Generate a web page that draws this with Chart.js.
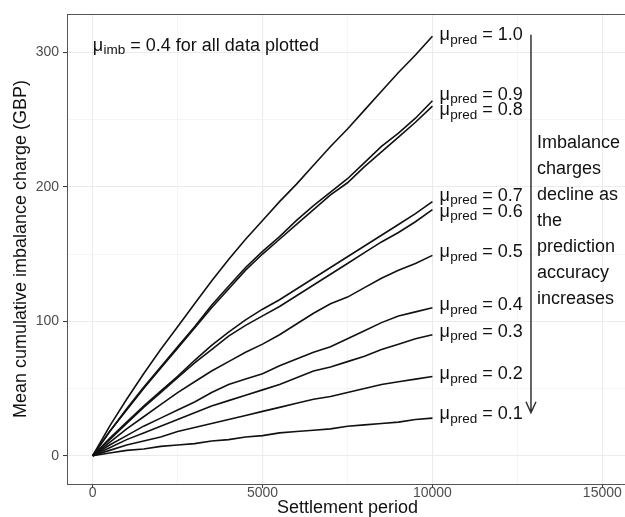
<!DOCTYPE html>
<html>
<head>
<meta charset="utf-8">
<script src="https://cdn.jsdelivr.net/npm/chart.js@4/dist/chart.umd.min.js"></script>
<style>
  html, body { margin: 0; padding: 0; background: #fff; overflow: hidden; }
  #wrap { width: 625px; height: 517px; overflow: hidden; }
</style>
</head>
<body>
<div id="wrap"><canvas id="chart" width="640" height="517"></canvas></div>
<script>
// settlement periods sampled along each curve
const period = [0, 500, 1000, 1500, 2000, 2500, 3000, 3500, 4000, 4500, 5000,
  5500, 6000, 6500, 7000, 7500, 8000, 8500, 9000, 9500, 10000];

// mean cumulative imbalance charge (GBP), one array per prediction accuracy
const charge10 = [0, 22, 42, 61, 79, 96, 113, 130, 146, 161, 175, 189, 202, 216, 230, 243, 257, 271, 285, 298, 312];
const charge09 = [0, 18, 35, 51, 66, 81, 96, 112, 126, 140, 152, 163, 175, 186, 196, 206, 218, 230, 240, 251, 264];
const charge08 = [0, 18, 34, 50, 65, 80, 95, 110, 124, 138, 150, 161, 172, 183, 194, 203, 215, 226, 237, 248, 260];
const charge07 = [0, 13, 25, 37, 48, 59, 71, 82, 92, 101, 109, 116, 124, 132, 140, 148, 156, 164, 172, 180, 189];
const charge06 = [0, 12, 24, 36, 47, 58, 69, 79, 89, 97, 104, 111, 119, 127, 135, 143, 151, 159, 166, 174, 183];
const charge05 = [0, 10, 20, 29, 38, 47, 55, 63, 70, 77, 83, 90, 98, 106, 113, 118, 125, 132, 138, 143, 149];
const charge04 = [0, 8, 15, 22, 28, 34, 40, 47, 53, 57, 61, 67, 72, 77, 81, 87, 93, 99, 104, 107, 110];
const charge03 = [0, 6, 12, 17, 22, 27, 32, 37, 41, 45, 49, 53, 58, 63, 66, 70, 74, 79, 83, 87, 90];
const charge02 = [0, 4, 8, 11, 14, 18, 21, 24, 27, 30, 33, 36, 39, 42, 44, 47, 50, 53, 55, 57, 59];
const charge01 = [0, 2, 4, 5, 7, 8, 9, 11, 12, 14, 15, 17, 18, 19, 20, 22, 23, 24, 25, 27, 28];

const predLevels = ['1.0', '0.9', '0.8', '0.7', '0.6', '0.5', '0.4', '0.3', '0.2', '0.1'];
const seriesList = [charge10, charge09, charge08, charge07, charge06, charge05, charge04, charge03, charge02, charge01];

const xMajor = [0, 5000, 10000, 15000];
const xMinor = [2500, 7500, 12500];
const yMajor = [0, 100, 200, 300];
const yMinor = [50, 150, 250];

const arrowText = ['Imbalance', 'charges', 'decline as', 'the', 'prediction', 'accuracy', 'increases'];

const FONT = '"Liberation Sans", Arial, Helvetica, sans-serif';

function ticksFrom(major, minor) {
  return major.concat(minor).sort((a, b) => a - b).map(v => ({ value: v }));
}

// draws "μ" + subscript + rest, left aligned, vertically centred on y
function muLabel(ctx, x, y, sub, rest) {
  ctx.textAlign = 'left';
  ctx.textBaseline = 'middle';
  ctx.font = '18px ' + FONT;
  ctx.fillText('μ', x, y);
  let cx = x + ctx.measureText('μ').width + 0.5;
  ctx.font = '13.5px ' + FONT;
  ctx.fillText(sub, cx, y + 5);
  cx += ctx.measureText(sub).width;
  ctx.font = '18px ' + FONT;
  ctx.fillText(rest, cx, y);
}

const panelPlugin = {
  id: 'panel',
  beforeDatasetsDraw(chart) {
    const { ctx, chartArea: a } = chart;
    ctx.save();
    ctx.strokeStyle = '#555';
    ctx.lineWidth = 1;
    ctx.strokeRect(a.left + 0.5, a.top + 0.5, a.right - a.left, a.bottom - a.top);
    ctx.restore();
  },
  afterDatasetsDraw(chart) {
    const { ctx } = chart;
    const xs = chart.scales.x, ys = chart.scales.y;
    ctx.save();
    ctx.fillStyle = '#111';

    // note at the top left
    muLabel(ctx, xs.getPixelForValue(0), ys.getPixelForValue(305), 'imb', ' = 0.4 for all data plotted');

    // curve labels at the end of each line, nudged apart where they crowd
    const nudge = [-1, -6, 4, -6, 2, -3, -3, -3, -2, -4];
    const endX = xs.getPixelForValue(period[period.length - 1]) + 7;
    seriesList.forEach((s, i) => {
      const y = ys.getPixelForValue(s[s.length - 1]) + nudge[i];
      muLabel(ctx, endX, y, 'pred', ' = ' + predLevels[i]);
    });

    // downward arrow
    const ax = xs.getPixelForValue(12900);
    const y0 = ys.getPixelForValue(313), y1 = ys.getPixelForValue(32);
    ctx.strokeStyle = '#333';
    ctx.lineWidth = 1.5;
    ctx.beginPath();
    ctx.moveTo(ax, y0);
    ctx.lineTo(ax, y1);
    ctx.moveTo(ax - 5, y1 - 11);
    ctx.lineTo(ax, y1);
    ctx.lineTo(ax + 5, y1 - 11);
    ctx.stroke();

    ctx.font = '18px ' + FONT;
    ctx.textAlign = 'left';
    ctx.textBaseline = 'middle';
    arrowText.forEach((t, i) => ctx.fillText(t, ax + 6, 143 + i * 26));
    ctx.restore();
  }
};

new Chart(document.getElementById('chart'), {
  type: 'line',
  data: {
    datasets: seriesList.map((s, i) => ({
      label: 'pred ' + predLevels[i],
      data: period.map((p, j) => ({ x: p, y: s[j] })),
      borderColor: '#111',
      borderWidth: 1.6,
      pointRadius: 0,
      tension: 0,
      fill: false
    }))
  },
  options: {
    responsive: false,
    animation: false,
    layout: { padding: { top: 14, right: 12, left: 0, bottom: 0 } },
    plugins: { legend: { display: false }, tooltip: { enabled: false } },
    scales: {
      x: {
        type: 'linear',
        min: -756,
        max: 15756,
        afterBuildTicks: axis => { axis.ticks = ticksFrom(xMajor, xMinor); },
        afterFit: axis => { axis.height = 33; },
        border: { display: false },
        grid: {
          color: c => xMajor.includes(c.tick.value) ? '#ebebeb' : '#f1f1f1',
          lineWidth: c => xMajor.includes(c.tick.value) ? 1.1 : 0.7,
          tickColor: c => xMajor.includes(c.tick.value) ? '#333' : 'rgba(0,0,0,0)',
          tickLength: 4,
          tickWidth: 1
        },
        ticks: {
          autoSkip: false,
          maxRotation: 0,
          padding: -2,
          color: '#4d4d4d',
          font: { family: FONT, size: 14, lineHeight: 1 },
          callback: v => xMajor.includes(v) ? String(v) : ''
        },
        title: {
          display: true,
          text: 'Settlement period',
          color: '#111',
          font: { family: FONT, size: 18 },
          padding: { top: 0, bottom: -2 }
        }
      },
      y: {
        type: 'linear',
        min: -21,
        max: 328.5,
        afterBuildTicks: axis => { axis.ticks = ticksFrom(yMajor, yMinor); },
        afterFit: axis => { axis.width = 67; },
        border: { display: false },
        grid: {
          color: c => yMajor.includes(c.tick.value) ? '#ebebeb' : '#f1f1f1',
          lineWidth: c => yMajor.includes(c.tick.value) ? 1.1 : 0.7,
          tickColor: c => yMajor.includes(c.tick.value) ? '#333' : 'rgba(0,0,0,0)',
          tickLength: 4,
          tickWidth: 1
        },
        ticks: {
          autoSkip: false,
          padding: 4,
          color: '#4d4d4d',
          font: { family: FONT, size: 14 },
          callback: v => yMajor.includes(v) ? String(v) : ''
        },
        title: {
          display: true,
          text: 'Mean cumulative imbalance charge (GBP)',
          color: '#111',
          font: { family: FONT, size: 18 },
          padding: { top: 10, bottom: 0 }
        }
      }
    }
  },
  plugins: [panelPlugin]
});
</script>
</body>
</html>
